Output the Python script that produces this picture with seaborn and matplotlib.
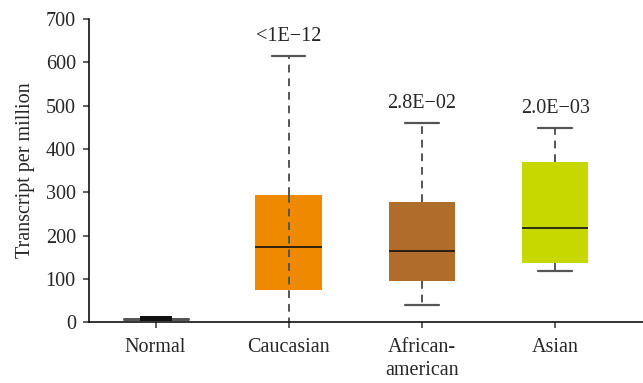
import numpy as np
import pandas as pd
import matplotlib
matplotlib.use("Agg")
import matplotlib.pyplot as plt
import seaborn as sns

categories = ["Normal", "Caucasian", "African-american", "Asian"]
tick_labels = ["Normal", "Caucasian", "African-\namerican", "Asian"]
# five-number summaries: min, q1, median, q3, max
mins    = [3, 0, 40, 119]
q1s     = [3, 75, 96, 137]
medians = [8, 174, 165, 217]
q3s     = [14, 293, 277, 369]
maxs    = [14, 615, 459, 448]
pvalues = ["", "<1E\u221212", "2.8E\u221202", "2.0E\u221203"]
colors = {"Normal": "#111111", "Caucasian": "#ef8a00",
          "African-american": "#b06c2b", "Asian": "#c6d800"}

rows = []
for c, a, b, m, d, e in zip(categories, mins, q1s, medians, q3s, maxs):
    for v in (a, b, m, d, e):
        rows.append({"group": c, "tpm": v})
df = pd.DataFrame(rows)

sns.set_style("white")
plt.rcParams["font.family"] = ["Liberation Serif", "DejaVu Serif"]

fig = plt.figure(figsize=(6.43, 3.83), dpi=100)
ax = fig.add_axes([0.1384, 0.159, 0.8616, 0.791])

common = dict(x="group", y="tpm", order=categories, hue="group",
              palette=colors, whis=np.inf, saturation=1, legend=False,
              linewidth=1.6, linecolor="#555555",
              medianprops=dict(color="#111111", linewidth=1.2),
              whiskerprops=dict(color="#555555", linestyle=(0, (4, 3)), linewidth=1.4),
              capprops=dict(color="#555555", linewidth=1.6),
              boxprops=dict(linewidth=0), showfliers=False)

sns.boxplot(data=df[df.group != "Normal"], width=0.5, ax=ax, **common)
sns.boxplot(data=df[df.group == "Normal"], width=0.24, ax=ax, **common)

for cont in ax.containers:
    for box in cont.boxes:
        box.set_edgecolor(box.get_facecolor())
        box.set_linewidth(0)

# Normal: a single wide gray cap line through the thin black box
normal_cont = ax.containers[-1]
for box in normal_cont.boxes:
    box.set_facecolor(colors["Normal"])
    box.set_zorder(3)
for cap in normal_cont.caps:
    xd = cap.get_xdata()
    cen = np.mean(xd)
    cap.set_xdata([cen - 0.24, cen + 0.24])
    cap.set_ydata([medians[0], medians[0]])
    cap.set_linewidth(2.0)
    cap.set_zorder(2)
for w in normal_cont.whiskers:
    w.set_visible(False)
for m in normal_cont.medians:
    m.set_visible(False)

# Caucasian whisker crosses the whole box; its bottom cap sits under the axis
main_cont = ax.containers[0]
idx = categories.index("Caucasian") - 1
low_wh = main_cont.whiskers[2 * idx]
low_wh.set_ydata([q3s[1], mins[1]])
low_wh.set_zorder(5)
main_cont.caps[2 * idx].set_visible(False)

for i, t in enumerate(pvalues):
    if t:
        ax.text(i, maxs[i] + 24, t, ha="center", va="bottom", fontsize=14.5)

ax.set_ylim(0, 700)
ax.set_xlim(-0.5, 3.66)
ax.set_yticks(range(0, 701, 100))
ax.set_xticks(range(len(categories)))
ax.set_xticklabels(tick_labels, fontsize=14.5, linespacing=1.25)
ax.tick_params(axis="y", labelsize=14.5, pad=5)
ax.tick_params(axis="x", pad=7)
ax.tick_params(axis="both", direction="out", length=4.5, width=1.2, color="#444444",
               bottom=True, left=True)
ax.set_xlabel("")
ax.set_ylabel("Transcript per million", fontsize=14.5, labelpad=8)
for s in ["top", "right"]:
    ax.spines[s].set_visible(False)
for s in ["left", "bottom"]:
    ax.spines[s].set_color("#111111")
    ax.spines[s].set_linewidth(1.2)
    ax.spines[s].set_zorder(10)

fig.savefig("out.png", dpi=100)
